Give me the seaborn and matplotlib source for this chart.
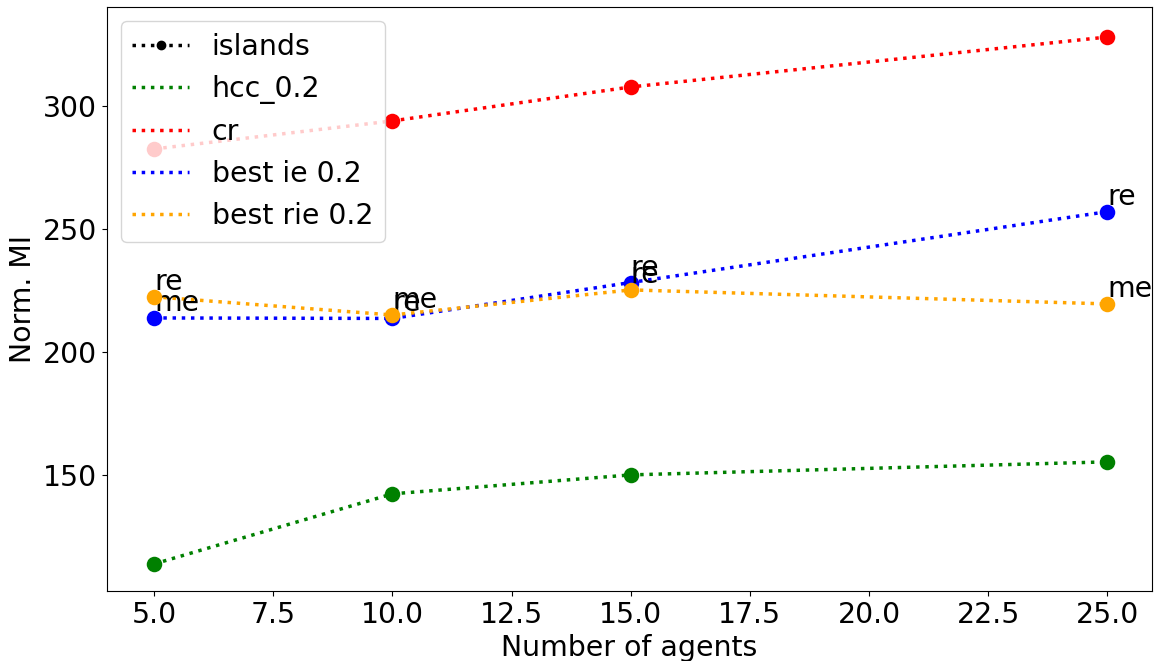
import matplotlib
matplotlib.use("Agg")
import matplotlib.pyplot as plt
from matplotlib.lines import Line2D
import seaborn as sns
import pandas as pd

agents = [5, 10, 15, 25]
hcc = [113.8, 142.3, 150.0, 155.3]
cr = [282.5, 293.9, 307.7, 328.0]
best_ie = [213.8, 213.6, 228.2, 257.0]
best_rie = [222.4, 215.0, 225.2, 219.5]
ie_labels = ["me", "re", "re", "re"]
rie_labels = ["re", "me", "re", "me"]

series = [
    ("hcc_0.2", hcc, "green", None),
    ("cr", cr, "red", None),
    ("best ie 0.2", best_ie, "blue", ie_labels),
    ("best rie 0.2", best_rie, "orange", rie_labels),
]

fs = 20.4
plt.rcParams["font.size"] = fs
fig, ax = plt.subplots(figsize=(11.59, 6.61), dpi=100)
fig.subplots_adjust(left=0.0923, right=0.9940, top=0.9894, bottom=0.1059)

handles = [Line2D([], [], color="black", ls=":", lw=2.5, marker="o", ms=6)]
names = ["islands"]
for name, vals, col, labels in series:
    df = pd.DataFrame({"agents": agents, "val": vals})
    sns.lineplot(data=df, x="agents", y="val", color=col, linestyle=":",
                 linewidth=2.5, ax=ax)
    sns.scatterplot(data=df, x="agents", y="val", color=col, s=125,
                    edgecolor=col, linewidth=0, ax=ax, zorder=3)
    handles.append(Line2D([], [], color=col, ls=":", lw=2.5))
    names.append(name)
    if labels:
        for xv, yv, t in zip(agents, vals, labels):
            ax.annotate(t, (xv, yv), xytext=(0, 5), textcoords="offset points",
                        fontsize=fs)

ax.legend(handles, names, loc="upper left", fontsize=fs)
ax.set_xlabel("Number of agents", fontsize=fs)
ax.set_ylabel("Norm. MI", fontsize=fs)
ax.tick_params(labelsize=fs)
ax.set_xticks([5.0, 7.5, 10.0, 12.5, 15.0, 17.5, 20.0, 22.5, 25.0])
ax.set_yticks([150, 200, 250, 300])
ax.set_xlim(4.01, 25.94)
ax.set_ylim(102.8, 340.2)

fig.savefig("out.png", dpi=100)
